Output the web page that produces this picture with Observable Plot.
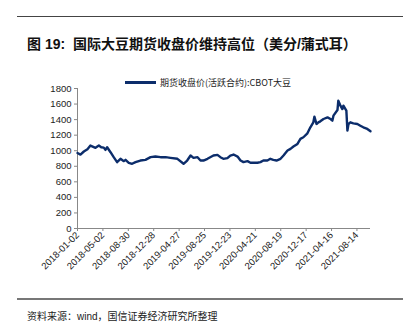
<!DOCTYPE html>
<html>
<head>
<meta charset="utf-8">
<script src="https://cdn.jsdelivr.net/npm/d3@7"></script>
<script src="https://cdn.jsdelivr.net/npm/@observablehq/plot@0.6"></script>
<style>
  html, body { margin: 0; padding: 0; background: #fff; }
  #wrap { position: relative; width: 416px; height: 330px; overflow: hidden; font-family: "Liberation Sans", "Noto Sans CJK SC", sans-serif; }
  .rule-top { position: absolute; left: 17px; top: 16px; width: 386px; height: 1px; background: #444; }
  .rule-bot { position: absolute; left: 17px; top: 298px; width: 386px; height: 2px; background: #777; }
  .title { position: absolute; left: 27px; top: 33px; font-size: 14px; font-weight: 700; color: #111; font-family: "Liberation Sans", "Noto Sans CJK SC", sans-serif; white-space: nowrap; }
  .legend { position: absolute; left: 125px; top: 76px; font-size: 9px; color: #222; font-family: "Noto Sans CJK SC", sans-serif; white-space: nowrap; display: flex; align-items: center; }
  .legend .sw { display: inline-block; width: 31px; height: 2.5px; background: #0c2d6b; margin-right: 4px; }
  .caption { position: absolute; left: 27px; top: 308px; font-size: 10px; color: #222; font-family: "Liberation Sans", "Noto Sans CJK SC", sans-serif; white-space: nowrap; }
  #chart { position: absolute; left: 0; top: 60px; }
</style>
</head>
<body>
<div id="wrap">
  <div class="rule-top"></div>
  <div class="title">图 19:&nbsp;&nbsp;国际大豆期货收盘价维持高位（美分/蒲式耳）</div>
  <div class="legend"><span class="sw"></span><span>期货收盘价(活跃合约):CBOT大豆</span></div>
  <div id="chart"></div>
  <div class="rule-bot"></div>
  <div class="caption">资料来源：wind，国信证券经济研究所整理</div>
</div>
<script>
const dates = [
  "2018-01-02","2018-01-16","2018-02-01","2018-02-18","2018-03-04","2018-03-28","2018-04-13","2018-04-24",
  "2018-05-06","2018-05-14","2018-05-22","2018-06-07","2018-06-22","2018-07-08","2018-07-24","2018-08-09",
  "2018-08-17","2018-09-01","2018-09-17","2018-10-03","2018-10-26","2018-11-19","2018-12-13","2019-01-05",
  "2019-01-29","2019-02-22","2019-03-17","2019-04-19","2019-05-18","2019-06-04","2019-06-20","2019-07-04",
  "2019-07-23","2019-08-06","2019-08-20","2019-09-08","2019-10-06","2019-10-25","2019-11-08","2019-11-22",
  "2019-12-11","2019-12-25","2020-01-09","2020-01-28","2020-02-11","2020-02-25","2020-03-15","2020-03-29",
  "2020-04-12","2020-05-01","2020-05-15","2020-05-29","2020-06-17","2020-07-01","2020-07-15","2020-07-30",
  "2020-08-18","2020-09-01","2020-09-20","2020-10-04","2020-10-18","2020-11-06","2020-11-20","2020-12-04",
  "2020-12-23","2021-01-06","2021-01-20","2021-01-25","2021-02-04","2021-02-13","2021-02-22","2021-03-09",
  "2021-03-28","2021-04-11","2021-04-20","2021-04-25","2021-05-14","2021-05-18","2021-05-28","2021-06-06",
  "2021-06-11","2021-06-25","2021-06-30","2021-07-05","2021-07-14","2021-07-28","2021-08-16","2021-08-30",
  "2021-09-13","2021-10-02","2021-10-17"
];
const values = [
  970, 950, 990, 1020, 1066, 1037, 1066, 1045,
  1040, 1011, 1045, 981, 917, 853, 896, 866,
  883, 845, 832, 853, 874, 883, 917, 925,
  917, 917, 908, 896, 832, 874, 938, 908,
  917, 874, 874, 896, 938, 947, 917, 896,
  904, 938, 951, 925, 874, 853, 866, 845,
  845, 845, 853, 874, 874, 896, 883, 874,
  896, 938, 1002, 1024, 1054, 1088, 1152, 1173,
  1224, 1301, 1365, 1438, 1344, 1365, 1378, 1408,
  1429, 1408, 1387, 1451, 1523, 1643, 1579, 1536,
  1579, 1515, 1259, 1344, 1365, 1352, 1344, 1322,
  1301, 1280, 1250
];
const xTickLabels = [
  "2018-01-02","2018-05-02","2018-08-30","2018-12-28","2019-04-27","2019-08-25",
  "2019-12-23","2020-04-21","2020-08-19","2020-12-17","2021-04-16","2021-08-14"
];
const yTicks = [0, 200, 400, 600, 800, 1000, 1200, 1400, 1600, 1800];
const xDomain = ["2018-01-02", "2021-10-17"];

const data = dates.map((d, i) => ({date: new Date(d), value: values[i]}));
const x0 = new Date(xDomain[0]);

const chart = Plot.plot({
  width: 416,
  height: 240,
  marginTop: 28,
  marginBottom: 72,
  marginLeft: 77,
  marginRight: 46,
  style: {fontFamily: "'Liberation Sans', Arial, sans-serif", fontSize: "9.5px", color: "#222", background: "transparent", overflow: "visible"},
  x: {type: "utc", domain: xDomain.map(d => new Date(d))},
  y: {domain: [0, 1800]},
  marks: [
    Plot.axisY({ticks: yTicks, tickFormat: d => String(d), tickSize: 3, tickPadding: 3, label: null, stroke: "#888", fill: "#222", fontSize: 9.5}),
    Plot.axisX({ticks: xTickLabels.map(d => new Date(d)), tickFormat: d3.utcFormat("%Y-%m-%d"), tickRotate: -45, tickSize: 3, tickPadding: 2, label: null, stroke: "#888", fill: "#222", fontSize: 9.5}),
    Plot.ruleY([0], {stroke: "#888"}),
    Plot.ruleX([x0], {stroke: "#888"}),
    Plot.lineY(data, {x: "date", y: "value", stroke: "#0c2d6b", strokeWidth: 2.4, strokeLinejoin: "round"})
  ]
});
document.getElementById("chart").appendChild(chart);
</script>
</body>
</html>
